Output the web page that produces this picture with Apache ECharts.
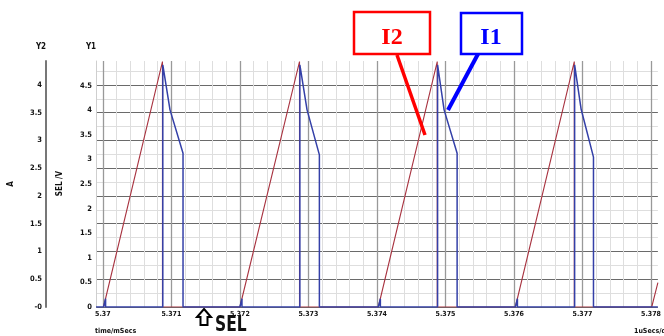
<!DOCTYPE html>
<html><head><meta charset="utf-8">
<script src="https://cdn.jsdelivr.net/npm/echarts@6/dist/echarts.min.js"></script>
<style>html,body{margin:0;padding:0;background:#fff}#c{width:664px;height:336px}</style>
</head><body><div id="c"></div>
<script>
// ---- axis ranges / tick labels ----
const xMin = 5.3699, xMax = 5.3781;
const xTickLabels = ['5.37','5.371','5.372','5.373','5.374','5.375','5.376','5.377','5.378'];
const y1Labels = ['0','0.5','1','1.5','2','2.5','3','3.5','4','4.5'];
const y2Labels = ['-0','0.5','1','1.5','2','2.5','3','3.5','4'];

// ---- I2 (red): linear ramp up, then drop ----
const rampStart = [5.37001, 5.37200, 5.37402, 5.37602, 5.37801];
const rampPeakTime = [5.37087, 5.37287, 5.37488, 5.37688];
const i2Peak = [4.42, 4.42, 4.42, 4.42];
const i2EdgeTime = 5.3781;
const i2EdgeValue = 0.44;

// ---- I1 (blue) ----
const blipTime = [5.37004, 5.37203, 5.37405, 5.37605];
const blipValue = [0.15, 0.15, 0.15, 0.15];
const i1RiseTime = [5.370875, 5.372875, 5.374885, 5.376885];
const i1Top = [4.36, 4.36, 4.36, 4.36];
const i1KneeTime = [5.37098, 5.37298, 5.37498, 5.37698];
const i1Knee = [3.55, 3.55, 3.55, 3.56];
const i1FallTime = [5.37117, 5.37316, 5.37517, 5.37716];
const i1End = [2.77, 2.74, 2.77, 2.70];

// build series data
const redData = [];
for (let i = 0; i < rampPeakTime.length; i++) {
  redData.push([rampStart[i], 0], [rampPeakTime[i], i2Peak[i]], [rampPeakTime[i], 0]);
}
redData.push([rampStart[4], 0], [i2EdgeTime, i2EdgeValue]);

const blueData = [[xMin, 0]];
for (let i = 0; i < i1RiseTime.length; i++) {
  blueData.push([rampStart[i], 0], [blipTime[i], blipValue[i]], [blipTime[i], 0],
    [i1RiseTime[i], 0], [i1RiseTime[i], i1Top[i]], [i1KneeTime[i], i1Knee[i]],
    [i1FallTime[i], i1End[i]], [i1FallTime[i], 0]);
}
blueData.push([xMax, 0]);

const FONT = '"Liberation Sans Narrow","DejaVu Sans Condensed","Liberation Sans",sans-serif';

const chart = echarts.init(document.getElementById('c'), null, {renderer: 'canvas'});
chart.setOption({
  animation: false,
  backgroundColor: '#fff',
  textStyle: {fontFamily: FONT},
  grid: {left: 96, right: 0, top: 61, bottom: 29, containLabel: false},
  xAxis: {
    type: 'value', min: xMin, max: xMax, minInterval: 0.001, maxInterval: 0.001, splitNumber: 8,
    axisLine: {show: false}, axisTick: {show: false},
    axisLabel: {
      margin: 4, fontSize: 7, fontWeight: 'bold', color: '#111', fontFamily: FONT,
      formatter: v => { const n = Math.round(v * 10000); return n % 10 === 0 ? (xTickLabels[(n - 53700) / 10] || '') : ''; }
    },
    splitLine: {show: true, showMinLine: false, showMaxLine: false, lineStyle: {width: 1.3, color: '#999'}},
    minorTick: {show: false, splitNumber: 5},
    minorSplitLine: {show: true, lineStyle: {width: 1, color: '#dedede'}}
  },
  yAxis: [
    {
      type: 'value', min: 0, max: 4.43, interval: 0.5, position: 'left', offset: 50,
      axisLine: {show: true, lineStyle: {color: '#777', width: 2}},
      axisTick: {show: false},
      axisLabel: {
        margin: 4, fontSize: 7.5, fontWeight: 'bold', color: '#111', fontFamily: FONT,
        formatter: v => { const n = Math.round(v * 2); return Math.abs(v * 2 - n) < 1e-6 ? (y2Labels[n] || '') : ''; }
      },
      splitLine: {show: true, showMaxLine: false, lineStyle: {width: 1, color: '#6a6a6a'}},
      minorTick: {show: false, splitNumber: 2},
      minorSplitLine: {show: true, lineStyle: {width: 1, color: '#dedede'}}
    },
    {
      type: 'value', min: 0, max: 5, interval: 0.5, position: 'left', offset: 0,
      axisLine: {show: true, onZero: false, lineStyle: {color: '#cfcfcf', width: 1}},
      axisTick: {show: false},
      axisLabel: {
        margin: 4, fontSize: 7.5, fontWeight: 'bold', color: '#111', fontFamily: FONT,
        formatter: v => y1Labels[Math.round(v * 2)] || ''
      },
      splitLine: {show: false}
    }
  ],
  series: [
    {name: 'I2', type: 'line', yAxisIndex: 0, data: redData, symbol: 'none',
     lineStyle: {color: '#a83340', width: 1.1}, z: 3},
    {name: 'I1', type: 'line', yAxisIndex: 0, data: blueData, symbol: 'none',
     lineStyle: {color: '#3440a8', width: 1.5}, z: 4}
  ],
  graphic: [
    {type: 'text', x: 41, y: 47, style: {text: 'Y2', font: 'bold 8px ' + FONT, fill: '#111', align: 'center', verticalAlign: 'middle'}},
    {type: 'text', x: 91, y: 47, style: {text: 'Y1', font: 'bold 8px ' + FONT, fill: '#111', align: 'center', verticalAlign: 'middle'}},
    {type: 'text', x: 11, y: 184, rotation: Math.PI / 2, style: {text: 'A', font: 'bold 8px ' + FONT, fill: '#111', align: 'center', verticalAlign: 'middle'}},
    {type: 'text', x: 59.5, y: 183.5, rotation: Math.PI / 2, style: {text: 'SEL /V', font: 'bold 8px ' + FONT, fill: '#111', align: 'center', verticalAlign: 'middle'}},
    {type: 'text', x: 95, y: 331, style: {text: 'time/mSecs', font: 'bold 7px ' + FONT, fill: '#111', align: 'left', verticalAlign: 'middle'}},
    {type: 'text', x: 634, y: 331, style: {text: '1uSecs/div', font: 'bold 7px ' + FONT, fill: '#111', align: 'left', verticalAlign: 'middle'}},
    {type: 'polygon', shape: {points: [[204, 309], [211, 317], [207.5, 317], [207.5, 325], [200.5, 325], [200.5, 317], [197, 317]]},
     style: {fill: '#fff', stroke: '#000', lineWidth: 2}},
    {type: 'text', x: 215, y: 326, scaleX: 0.82, style: {text: 'SEL', font: 'bold 21px ' + FONT, fill: '#111', align: 'left', verticalAlign: 'middle'}},
    {type: 'line', shape: {x1: 397, y1: 55, x2: 425, y2: 135}, style: {stroke: '#ff0000', lineWidth: 3.5}, z: 100},
    {type: 'rect', shape: {x: 354, y: 12, width: 76, height: 42}, style: {fill: '#fff', stroke: '#ff0000', lineWidth: 2.5}, z: 101},
    {type: 'text', x: 392, y: 38, style: {text: 'I2', font: 'bold 24px "Liberation Serif",serif', fill: '#ff0000', align: 'center', verticalAlign: 'middle'}, z: 102},
    {type: 'line', shape: {x1: 478, y1: 54, x2: 448, y2: 110}, style: {stroke: '#0000ff', lineWidth: 4}, z: 100},
    {type: 'rect', shape: {x: 461, y: 13, width: 61, height: 41}, style: {fill: '#fff', stroke: '#0000ff', lineWidth: 2.5}, z: 101},
    {type: 'text', x: 491, y: 38, style: {text: 'I1', font: 'bold 24px "Liberation Serif",serif', fill: '#0000ff', align: 'center', verticalAlign: 'middle'}, z: 102}
  ]
});
</script>
</body></html>
